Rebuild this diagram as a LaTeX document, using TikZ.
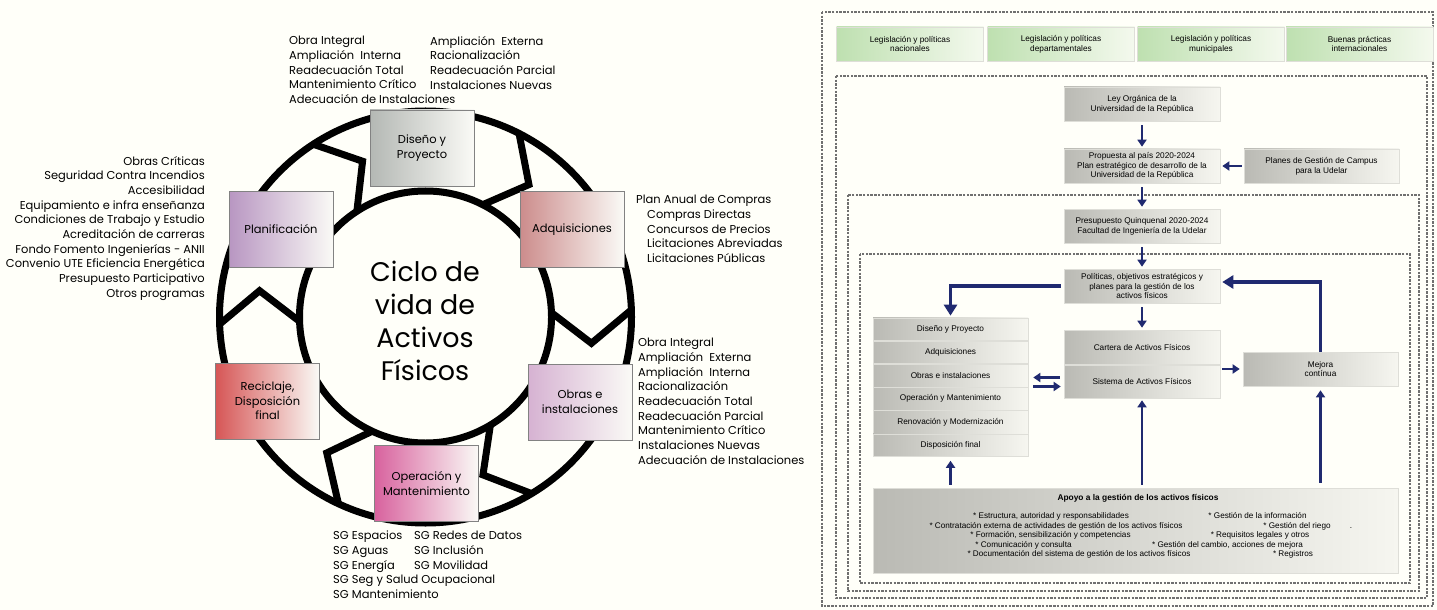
\documentclass[tikz,border=0pt]{standalone}
\usepackage{fontspec}
\setmainfont{Poppins}
\newfontfamily\arialf{Liberation Sans}
\usetikzlibrary{calc,arrows.meta}
\definecolor{bgc}{RGB}{255,255,249}
\definecolor{navy}{RGB}{32,42,112}
\definecolor{dashc}{RGB}{112,112,112}
\definecolor{cgray}{RGB}{180,184,180}
\definecolor{crose}{RGB}{204,140,140}
\definecolor{clilac}{RGB}{214,178,210}
\definecolor{cpink}{RGB}{216,98,158}
\definecolor{cred}{RGB}{214,86,86}
\definecolor{cpurp}{RGB}{184,150,194}
\definecolor{rgrayL}{RGB}{186,186,180}
\definecolor{rgrayR}{RGB}{246,246,240}
\definecolor{greenL}{RGB}{190,224,176}
\definecolor{greenR}{RGB}{244,249,238}
\definecolor{cwhite}{RGB}{250,250,246}
\definecolor{cborder}{RGB}{130,130,130}
\definecolor{rborder}{RGB}{222,222,216}
\begin{document}
\begin{tikzpicture}[x=1bp,y=-1bp,
  cbox/.style={draw=cborder, line width=0.8bp, right color=cwhite, minimum width=104bp, minimum height=76bp, inner sep=0, align=center, font=\fontsize{11.5}{14.5}\selectfont},
  lst/.style={inner sep=0, font=\fontsize{11.5}{14.72}\selectfont},
  ring/.style={line width=7bp, line join=miter},
  rbox/.style={draw=rborder, line width=0.6bp, left color=rgrayL, right color=rgrayR, inner sep=0, align=center, minimum width=156bp, minimum height=34bp, font=\arialf\fontsize{8.3}{9.8}\selectfont},
  gbox/.style={rbox, left color=greenL, right color=greenR, minimum width=147bp},
  frm/.style={draw=dashc, line width=1.1bp, dash pattern=on 2.4bp off 1.3bp},
  arr/.style={draw=navy, line width=2.4bp, -{Triangle[length=7bp,width=9bp]}, shorten <=4bp, shorten >=2bp},
  barr/.style={draw=navy, line width=3.4bp, -{Triangle[length=11bp,width=13bp]}, shorten >=2bp},
  itm/.style={inner sep=0, font=\arialf\fontsize{8.2}{9}\selectfont, text height=6.2bp, text depth=1.7bp},
]
\fill[bgc] (0,0) rectangle (1437,610);
\useasboundingbox (0,0) rectangle (1437,610);

% ---------- life cycle ring ----------
\coordinate (c) at (425.5,317);
\draw[ring] (c) circle[radius=206bp];
\draw[ring] (c) circle[radius=126bp];
\foreach \m in {2,63,123,182,245,301}
  \draw[ring] ($(c)+(\m:206bp)$) -- ($(c)+(\m-11:168bp)$) -- ($(c)+(\m:126bp)$);

\node[cbox, left color=cgray] (dis) at (422,148) {Diseño y\\Proyecto};
\node[cbox, left color=crose] (adq) at (572,229.5) {Adquisiciones};
\node[cbox, left color=clilac] (obr) at (580,402) {Obras e\\instalaciones};
\node[cbox, left color=cpink] (ope) at (426.5,483.5) {Operación y\\Mantenimiento};
\node[cbox, left color=cred] (rec) at (267.5,401) {Reciclaje,\\Disposición\\final};
\node[cbox, left color=cpurp] (pla) at (281,229.5) {Planificación};

\node[inner sep=0, align=center, font=\fontsize{27}{33}\selectfont] (title) at (425,321) {Ciclo de\\vida de\\Activos\\Físicos};

\node[lst, anchor=north west, align=left] (tl1) at (289,36) {Obra Integral\\Ampliación~ Interna\\Readecuación Total\\Mantenimiento Crítico\\Adecuación de Instalaciones};
\node[lst, anchor=north west, align=left] (tl2) at (430,36) {Ampliación~ Externa\\Racionalización\\Readecuación Parcial\\Instalaciones Nuevas};
\node[lst, anchor=north east, align=right] (ll) at (205,156) {Obras Críticas\\Seguridad Contra Incendios\\Accesibilidad\\Equipamiento e infra enseñanza\\Condiciones de Trabajo y Estudio\\Acreditación de carreras\\Fondo Fomento Ingenierías - ANII\\Convenio UTE Eficiencia Energética\\Presupuesto Participativo\\Otros programas};
\node[lst, anchor=north west, align=left] (al) at (636,195) {Plan Anual de Compras\\\hspace*{11bp}Compras Directas\\\hspace*{11bp}Concursos de Precios\\\hspace*{11bp}Licitaciones Abreviadas\\\hspace*{11bp}Licitaciones Públicas};
\node[lst, anchor=north west, align=left] (ol) at (638,338) {Obra Integral\\Ampliación~ Externa\\Ampliación~ Interna\\Racionalización\\Readecuación Total\\Readecuación Parcial\\Mantenimiento Crítico\\Instalaciones Nuevas\\Adecuación de Instalaciones};
\node[lst, anchor=north west, align=left] (pl1) at (333,531) {SG Espacios\\SG Aguas\\SG Energía\\SG Seg y Salud Ocupacional\\SG Mantenimiento};
\node[lst, anchor=north west, align=left] (pl2) at (414,531) {SG Redes de Datos\\SG Inclusión\\SG Movilidad};

% ---------- management system ----------
\draw[frm] (822,12) rectangle (1433,606);
\draw[frm] (836,76) rectangle (1427,598);
\draw[frm] (848,195) rectangle (1419,591);
\draw[frm] (860,254) rectangle (1410,583);

\node[gbox] (g1) at (910,44) {Legislación y políticas\\nacionales};
\node[gbox] (g2) at (1061,44) {Legislación y políticas\\departamentales};
\node[gbox] (g3) at (1211,44) {Legislación y políticas\\municipales};
\node[gbox] (g4) at (1359.5,44) {Buenas prácticas\\internacionales};

\node[rbox] (ley) at (1142,104) {Ley Orgánica de la\\Universidad de la República};
\node[rbox] (prop) at (1142,166) {Propuesta al país 2020-2024\\Plan estratégico de desarrollo de la\\Universidad de la República};
\node[rbox, minimum width=155bp] (plan) at (1321.5,166) {Planes de Gestión de Campus\\para la Udelar};
\node[rbox] (pres) at (1142,226) {Presupuesto Quinquenal 2020-2024\\Facultad de Ingeniería de la Udelar};
\node[rbox] (pol) at (1142,286) {Políticas, objetivos estratégicos y\\planes para la gestión de los\\activos físicos};
\node[rbox] (cart) at (1142,347) {Cartera de Activos Físicos};
\node[rbox, minimum height=33bp] (sis) at (1142,381.5) {Sistema de Activos Físicos};
\node[rbox, minimum width=155bp] (mej) at (1320.5,369) {Mejora\\contínua};

\node[rbox, minimum width=155bp, minimum height=22.5bp] (s1) at (950.5,329.2) {Diseño y Proyecto};
\node[rbox, minimum width=155bp, minimum height=22.5bp] (s2) at (950.5,352.4) {Adquisiciones};
\node[rbox, minimum width=155bp, minimum height=22.5bp] (s3) at (950.5,375.6) {Obras e instalaciones};
\node[rbox, minimum width=155bp, minimum height=22.5bp] (s4) at (950.5,398.8) {Operación y Mantenimiento};
\node[rbox, minimum width=155bp, minimum height=22.5bp] (s5) at (950.5,422.0) {Renovación y Modernización};
\node[rbox, minimum width=155bp, minimum height=22.5bp] (s6) at (950.5,445.2) {Disposición final};

\node[rbox, minimum width=525bp, minimum height=85bp] (apo) at (1135.5,530.5) {};
\node[itm, font=\arialf\bfseries\fontsize{8.4}{9}\selectfont] (at) at (1138,498) {Apoyo a la gestión de los activos físicos};
\node[itm] (a1) at (1051,516.5) {* Estructura, autoridad y responsabilidades};
\node[itm] (a2) at (1257.5,516.5) {* Gestión de la información};
\node[itm] (a3) at (1056,526) {* Contratación externa de actividades de gestión de los activos físicos};
\node[itm] (a4) at (1297,526) {* Gestión del riego};
\node[itm] (a5) at (1351,526) {.};
\node[itm] (a6) at (1050.5,535.5) {* Formación, sensibilización y competencias};
\node[itm] (a7) at (1260,535.5) {* Requisitos legales y otros};
\node[itm] (a8) at (1023.5,545) {* Comunicación y consulta};
\node[itm] (a9) at (1227.5,545) {* Gestión del cambio, acciones de mejora};
\node[itm] (a10) at (1079,554.5) {* Documentación del sistema de gestión de los activos físicos};
\node[itm] (a11) at (1293,554.5) {* Registros};

% arrows
\draw[arr] (ley.south) -- (prop.north);
\draw[arr, shorten <=2bp] (plan.west) -- (prop.east);
\draw[arr] (prop.south) -- (pres.north);
\draw[arr] (pres.south) -- (pol.north);
\draw[arr] (pol.south) -- (cart.north);
\draw[barr, shorten <=3bp] (pol.west) -| (s1.north);
\coordinate (pe) at ($(pol.east)+(0,-4)$);
\draw[barr] (mej.north) |- (pe);
\coordinate (sl1) at ($(sis.west)+(0,-4)$);
\coordinate (sl2) at ($(sis.west)+(0,5)$);
\draw[arr, shorten >=5bp] (sl1) -- (sl1 -| s3.east);
\draw[arr, shorten <=5bp, shorten >=3bp] (sl2 -| s3.east) -- (sl2);
\draw[arr, shorten <=2bp, shorten >=3bp] (sis.east |- mej.west) -- (mej.west);
\draw[arr, shorten <=3bp, shorten >=4bp] (apo.north -| s6.south) -- (s6.south);
\draw[arr, shorten <=3bp, shorten >=2bp] (apo.north -| sis.south) -- (sis.south);
\draw[arr, shorten <=5bp, shorten >=4bp] (apo.north -| mej.south) -- (mej.south);
\end{tikzpicture}
\end{document}
